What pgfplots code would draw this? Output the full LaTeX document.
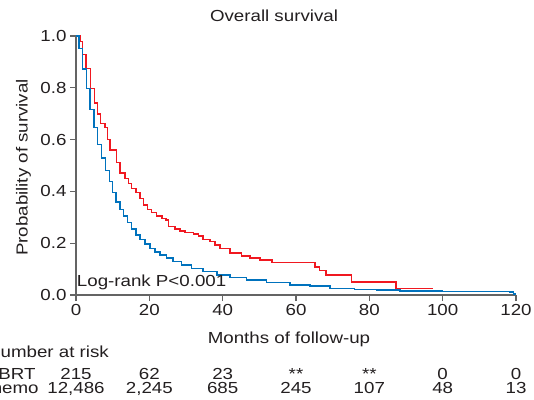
\documentclass[border=0pt]{standalone}
\usepackage{fontspec}
\setmainfont{Liberation Sans}[FakeStretch=1.17]
\usepackage{pgfplots}
\pgfplotsset{compat=1.18}
\definecolor{sbrt}{RGB}{240,24,32}
\definecolor{chemo}{RGB}{0,114,189}
\definecolor{axgray}{RGB}{100,100,100}
\definecolor{txt}{RGB}{35,31,32}
\begin{document}
\begin{tikzpicture}[font=\fontsize{16}{19}\selectfont, text=txt]
\useasboundingbox (0,0) rectangle (534pt,399pt);
\clip (0,0) rectangle (534pt,399pt);
\begin{axis}[
  at={(76pt,104pt)}, anchor=south west,
  scale only axis, width=440pt, height=259pt,
  xmin=0, xmax=120, ymin=0, ymax=1,
  axis lines=left,
  axis line style={-, draw=axgray, line width=1.5pt},
  tick align=outside, major tick length=6pt,
  tick style={draw=axgray, line width=1.4pt},
  xtick={0,20,40,60,80,100,120},
  ytick={0,0.2,0.4,0.6,0.8,1},
  yticklabel style={/pgf/number format/.cd,fixed,fixed zerofill,precision=1},
  /pgf/number format/assume math mode=true,
  ticklabel style={text=txt, font=\fontsize{16}{19}\selectfont},
  title={Overall survival},
  title style={at={(axis description cs:0.45,1.0347)}, anchor=base, inner sep=0pt},
  xlabel={Months of follow-up},
  xlabel style={at={(axis description cs:0.484,-0.189)}, anchor=base, inner sep=0pt},
  ylabel={Probability of survival},
  ylabel style={at={(axis description cs:-0.1102,0.4923)}, anchor=base, inner sep=0pt},
  clip=false,
]
% SBRT
\addplot[const plot, color=sbrt, line width=1.5pt] coordinates {
(0,1) (1.1,0.978) (1.8,0.929) (2.7,0.875) (4.0,0.798) (5.0,0.742) (5.8,0.699)
(6.7,0.663) (7.9,0.646) (8.6,0.600) (9.3,0.560) (11.1,0.511) (12.0,0.472)
(13.4,0.450) (14.3,0.431) (15.2,0.412) (16.4,0.395) (17.5,0.373) (18.4,0.347)
(19.5,0.331) (20.6,0.318) (22.0,0.305) (23.4,0.296) (24.5,0.290) (25.2,0.264)
(27.0,0.254) (28.4,0.248) (29.7,0.241) (32.0,0.235) (33.4,0.228) (34.7,0.215)
(36.5,0.206) (37.9,0.193) (39.3,0.180) (42.0,0.163) (45.2,0.151) (47.5,0.142)
(50.2,0.135) (53.4,0.125) (65.2,0.109) (66.4,0.094) (68.2,0.077) (75.2,0.051)
(87.3,0.026) (97.3,0.026)
};
% Chemo
\addplot[const plot, color=chemo, line width=1.5pt] coordinates {
(0,1) (0.8,0.952) (1.8,0.873) (2.9,0.798) (3.8,0.717) (4.9,0.646) (5.9,0.582)
(7.0,0.528) (8.1,0.480) (9.1,0.438) (10.0,0.395) (10.9,0.360) (12.0,0.331)
(12.9,0.305) (14.1,0.279) (15.2,0.254) (16.4,0.232) (17.5,0.215) (18.8,0.197)
(20.2,0.180) (21.5,0.167) (22.9,0.154) (24.7,0.142) (26.5,0.129) (28.8,0.116)
(31.5,0.103) (34.7,0.090) (38.4,0.077) (42.0,0.067) (46.5,0.058) (52.0,0.048)
(58.4,0.039) (63.8,0.035) (69.3,0.026) (76.0,0.022) (82.0,0.019) (88.4,0.015)
(100.0,0.014) (111.0,0.013) (118.4,0.012) (119.3,0.004) (120,0.004)
};
\node[anchor=base west, inner sep=0pt] at (axis cs:0.2,0.032) {Log-rank P<0.001};
% Number at risk table
\node[anchor=base west, inner sep=0pt] at (axis cs:-24.3,-0.243) {Number at risk};
\node[anchor=base west, inner sep=0pt] at (axis cs:-24.6,-0.328) {SBRT};
\node[anchor=base west, inner sep=0pt] at (axis cs:-26.7,-0.382) {Chemo};
\node[anchor=base, inner sep=0pt] at (axis cs:0,-0.328) {215};
\node[anchor=base, inner sep=0pt] at (axis cs:20,-0.328) {62};
\node[anchor=base, inner sep=0pt] at (axis cs:40,-0.328) {23};
\node[anchor=base, inner sep=0pt] at (axis cs:60,-0.328) {**};
\node[anchor=base, inner sep=0pt] at (axis cs:80,-0.328) {**};
\node[anchor=base, inner sep=0pt] at (axis cs:100,-0.328) {0};
\node[anchor=base, inner sep=0pt] at (axis cs:120,-0.328) {0};
\node[anchor=base, inner sep=0pt] at (axis cs:0,-0.382) {12,486};
\node[anchor=base, inner sep=0pt] at (axis cs:20,-0.382) {2,245};
\node[anchor=base, inner sep=0pt] at (axis cs:40,-0.382) {685};
\node[anchor=base, inner sep=0pt] at (axis cs:60,-0.382) {245};
\node[anchor=base, inner sep=0pt] at (axis cs:80,-0.382) {107};
\node[anchor=base, inner sep=0pt] at (axis cs:100,-0.382) {48};
\node[anchor=base, inner sep=0pt] at (axis cs:120,-0.382) {13};
\end{axis}
\end{tikzpicture}
\end{document}
